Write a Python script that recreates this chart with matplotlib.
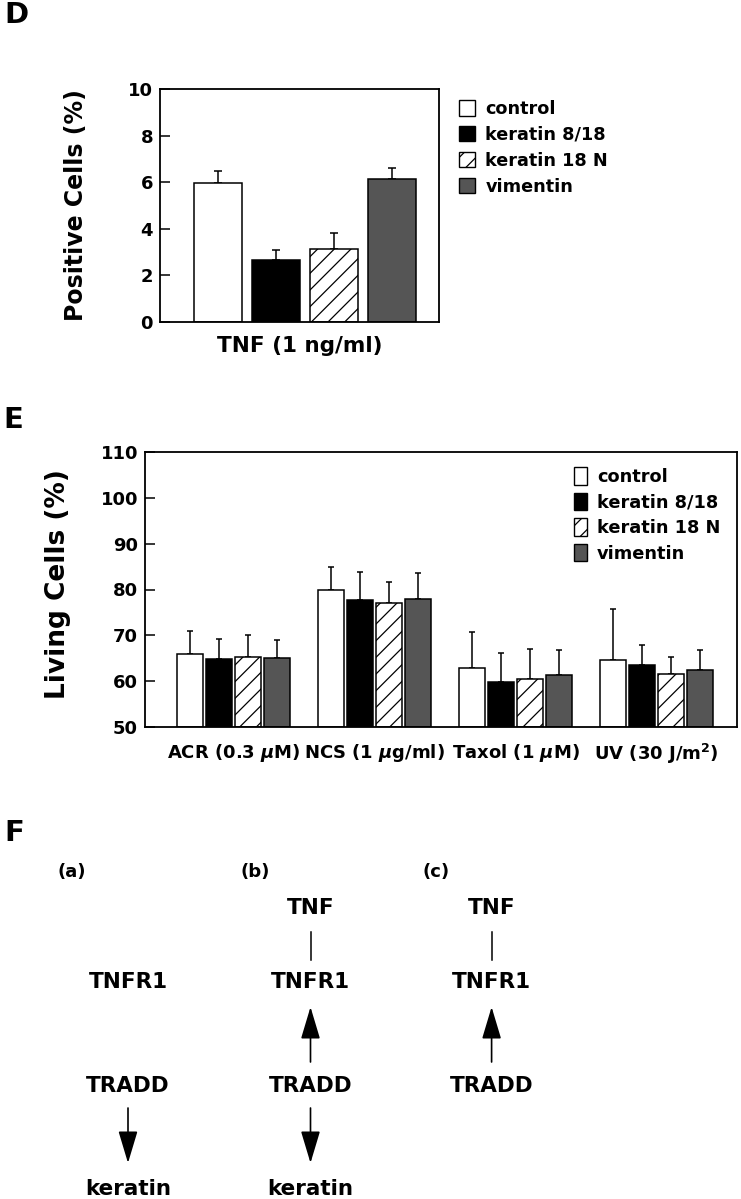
import matplotlib
matplotlib.use('Agg')
import matplotlib.pyplot as plt
import numpy as np
from matplotlib.patches import Patch

plt.rcParams['font.family'] = 'DejaVu Sans'
plt.rcParams['font.weight'] = 'bold'
plt.rcParams['hatch.linewidth'] = 0.9

W, H = 741, 1199

# legend entries shared by panels D and E
series = ['control', 'keratin 8/18', 'keratin 18 N', 'vimentin']
faces = ['white', 'black', 'white', '#555555']
hatches = ['', '', '//', '']

# panel D: positive cells after TNF
d_means = [5.95, 2.66, 3.13, 6.12]
d_errs = [0.55, 0.43, 0.69, 0.50]

# panel E: living cells per treatment (rows = series, cols = treatment)
e_groups = ['ACR (0.3 $\\mu$M)', 'NCS (1 $\\mu$g/ml)', 'Taxol (1 $\\mu$M)', 'UV (30 J/m$^2$)']
e_control = [65.9, 79.8, 62.9, 64.6]
e_k818 = [64.9, 77.7, 59.8, 63.5]
e_k18n = [65.3, 77.1, 60.5, 61.5]
e_vim = [65.0, 77.9, 61.4, 62.4]
e_control_err = [5.1, 5.1, 7.8, 11.2]
e_k818_err = [4.2, 6.1, 6.4, 4.5]
e_k18n_err = [4.7, 4.6, 6.5, 3.7]
e_vim_err = [3.9, 5.6, 5.4, 4.3]


def px_axes(fig, left, top, right, bottom):
    return fig.add_axes([left / W, 1 - bottom / H, (right - left) / W, (bottom - top) / H])


def style_axes(ax):
    for s in ax.spines.values():
        s.set_linewidth(1.3)
    ax.tick_params(axis='y', direction='in', length=7, width=1.1, pad=5, labelsize=13)
    ax.tick_params(axis='x', length=0)


def legend_handles():
    return [Patch(facecolor=f, edgecolor='black', hatch=h, linewidth=1.0)
            for f, h in zip(faces, hatches)]


fig = plt.figure(figsize=(W / 100, H / 100), dpi=100)

# ---------------- D ----------------
axd = px_axes(fig, 160, 89, 439, 322)
xd = np.arange(len(d_means))
for i in range(len(d_means)):
    axd.bar(xd[i], d_means[i], width=0.835, color=faces[i], hatch=hatches[i],
            edgecolor='black', linewidth=1.1, zorder=2)
axd.errorbar(xd, d_means, yerr=[np.zeros(len(d_errs)), d_errs], fmt='none',
             ecolor='black', elinewidth=1.1, capsize=3, capthick=1.1, zorder=1)
axd.set_xlim(-1.0, 3.81)
axd.set_ylim(0, 10)
axd.set_yticks(np.arange(0, 11, 2))
axd.set_xticks([])
style_axes(axd)
axd.set_ylabel('Positive Cells (%)', fontsize=17, fontweight='bold')
axd.yaxis.set_label_coords(-0.258, 0.5)
axd.set_xlabel('TNF (1 ng/ml)', fontsize=15.5, fontweight='bold')
axd.xaxis.set_label_coords(0.5, -0.06)
axd.legend(legend_handles(), series, loc='upper left', bbox_to_anchor=(459 / W, 1 - 100 / H),
           bbox_transform=fig.transFigure, frameon=False, fontsize=12.7,
           handlelength=0.9, handleheight=0.95, handletextpad=0.6, labelspacing=0.45,
           borderpad=0, borderaxespad=0)
fig.text(4 / W, 1 - 15 / H, 'D', fontsize=21, fontweight='bold', va='center', ha='left')

# ---------------- E ----------------
axe = px_axes(fig, 145, 452, 737, 727)
xe = np.arange(len(e_groups))
bw = 0.188
pitch = 0.206
e_means = [e_control, e_k818, e_k18n, e_vim]
e_errs = [e_control_err, e_k818_err, e_k18n_err, e_vim_err]
for i in range(len(series)):
    xs = xe + (i - 1.5) * pitch
    axe.bar(xs, np.array(e_means[i]) - 50, bottom=50, width=bw, color=faces[i],
            hatch=hatches[i], edgecolor='black', linewidth=1.1, zorder=2)
    axe.errorbar(xs, e_means[i], yerr=[np.zeros(len(xs)), e_errs[i]], fmt='none',
                 ecolor='black', elinewidth=1.1, capsize=2.2, capthick=1.1, zorder=1)
axe.set_xlim(-0.629, 3.57)
axe.set_ylim(50, 110)
axe.set_yticks(np.arange(50, 111, 10))
axe.set_xticks(xe)
axe.set_xticklabels(e_groups, fontsize=13, fontweight='bold')
style_axes(axe)
axe.tick_params(axis='x', pad=11)
axe.set_ylabel('Living Cells (%)', fontsize=19, fontweight='bold')
axe.yaxis.set_label_coords(-0.125, 0.52)
axe.legend(legend_handles(), series, loc='upper left', bbox_to_anchor=(574 / W, 1 - 467 / H),
           bbox_transform=fig.transFigure, frameon=False, fontsize=12.8,
           handlelength=0.75, handleheight=1.15, handletextpad=0.55, labelspacing=0.38,
           borderpad=0, borderaxespad=0)
fig.text(3 / W, 1 - 420 / H, 'E', fontsize=21, fontweight='bold', va='center', ha='left')

# ---------------- F ----------------
axf = fig.add_axes([0, 0, 1, 1])
axf.set_xlim(0, W)
axf.set_ylim(H, 0)
axf.axis('off')
axf.patch.set_visible(False)
fig.text(4 / W, 1 - 833 / H, 'F', fontsize=21, fontweight='bold', va='center', ha='left')

cols = [128, 310.5, 491.6]
panel_tags = ['(a)', '(b)', '(c)']
tag_x = [72, 255, 436]
for tx, tag in zip(tag_x, panel_tags):
    axf.text(tx, 872, tag, fontsize=13, ha='center', va='center')

# rows: TNF, TNFR1, TRADD, keratin
has_tnf = [False, True, True]
has_keratin = [True, True, False]
up_arrow = [False, True, True]
for cx, tnf, ker, up in zip(cols, has_tnf, has_keratin, up_arrow):
    if tnf:
        axf.text(cx, 908, 'TNF', fontsize=15.5, ha='center', va='center')
        axf.plot([cx, cx], [932, 960], color='black', lw=1.1)
    axf.text(cx, 982, 'TNFR1', fontsize=15.5, ha='center', va='center')
    axf.text(cx, 1086, 'TRADD', fontsize=15.5, ha='center', va='center')
    if up:
        axf.annotate('', xy=(cx, 1007), xytext=(cx, 1062),
                     arrowprops=dict(arrowstyle='-|>,head_length=1.0,head_width=0.3',
                                     mutation_scale=20, lw=1.2, color='black',
                                     shrinkA=0, shrinkB=0))
    if ker:
        axf.annotate('', xy=(cx, 1163), xytext=(cx, 1108),
                     arrowprops=dict(arrowstyle='-|>,head_length=1.0,head_width=0.3',
                                     mutation_scale=20, lw=1.2, color='black',
                                     shrinkA=0, shrinkB=0))
        axf.text(cx, 1189, 'keratin', fontsize=15.5, ha='center', va='center')

fig.savefig('out.png', dpi=100)
